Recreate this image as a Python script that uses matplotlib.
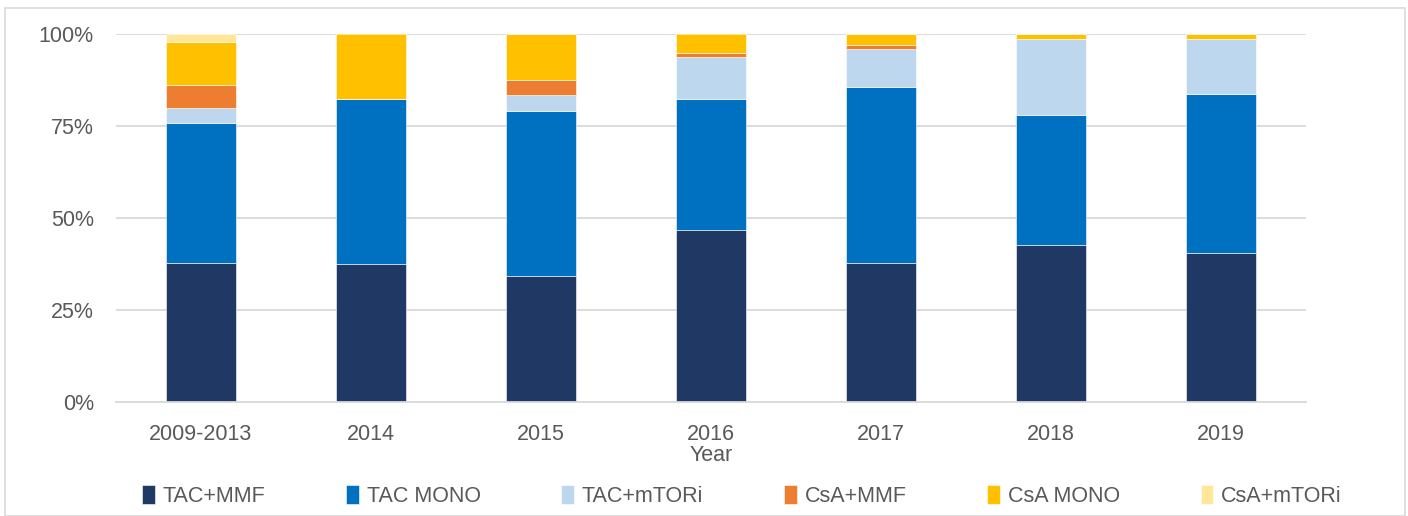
import matplotlib.pyplot as plt
import numpy as np
from matplotlib.patches import Rectangle

plt.rcParams['font.family'] = ['Liberation Sans', 'DejaVu Sans']

years = ['2009-2013', '2014', '2015', '2016', '2017', '2018', '2019']
series = ['TAC+MMF', 'TAC MONO', 'TAC+mTORi', 'CsA+MMF', 'CsA MONO', 'CsA+mTORi']

tac_mmf = [37.6, 37.4, 34.3, 46.8, 37.8, 42.7, 40.4]
tac_mono = [38.1, 44.7, 44.8, 35.5, 47.6, 35.2, 43.1]
tac_mtori = [4.2, 0.0, 4.1, 11.4, 10.5, 20.6, 15.0]
csa_mmf = [6.0, 0.0, 4.1, 0.9, 0.9, 0.0, 0.0]
csa_mono = [11.8, 17.9, 12.7, 5.4, 3.2, 1.5, 1.5]
csa_mtori = [2.3, 0.0, 0.0, 0.0, 0.0, 0.0, 0.0]

colors = ['#1F3864', '#0070C0', '#BDD7EE', '#ED7D31', '#FFC000', '#FFE699']
values = [tac_mmf, tac_mono, tac_mtori, csa_mmf, csa_mono, csa_mtori]

fig = plt.figure(figsize=(14.08, 5.16), dpi=100)
ax = fig.add_axes([116 / 1408, 1 - 402 / 516, 1190 / 1408, 368.5 / 516])

x = np.arange(len(years))
bottom = np.zeros(len(years))
for name, vals, c in zip(series, values, colors):
    vals = np.array(vals)
    ax.bar(x, vals, 0.41, bottom=bottom, color=c, label=name,
           edgecolor='white', linewidth=0.4)
    bottom += vals

ax.set_xlim(-0.5, 6.5)
ax.set_ylim(0, 100)
ax.set_yticks([0, 25, 50, 75, 100])
ax.set_yticklabels(['0%', '25%', '50%', '75%', '100%'])
ax.set_xticks(x)
ax.set_xticklabels(years)
ax.yaxis.grid(True, color='#D9D9D9', linewidth=1.3)
ax.set_axisbelow(True)
for s in ['top', 'right', 'left']:
    ax.spines[s].set_visible(False)
ax.spines['bottom'].set_color('#D9D9D9')
ax.spines['bottom'].set_linewidth(1.3)
ax.tick_params(axis='both', length=0, labelsize=15.5, colors='#595959')
ax.tick_params(axis='y', pad=16)
ax.tick_params(axis='x', pad=16)
ax.set_xlabel('Year', fontsize=15.5, color='#595959', labelpad=0)

leg = fig.legend(loc='center', bbox_to_anchor=(742 / 1408, 1 - 496 / 516), ncol=6,
                 frameon=False, fontsize=15.5, handlelength=0.6, handleheight=1.0,
                 handletextpad=0.35, columnspacing=3.75)
for t in leg.get_texts():
    t.set_color('#595959')

fig.patches.append(Rectangle((5 / 1408, 0), 1400 / 1408, 1 - 8 / 516,
                             transform=fig.transFigure, fill=False,
                             edgecolor='#D9D9D9', linewidth=1.2))

fig.savefig('out.png', dpi=100)
